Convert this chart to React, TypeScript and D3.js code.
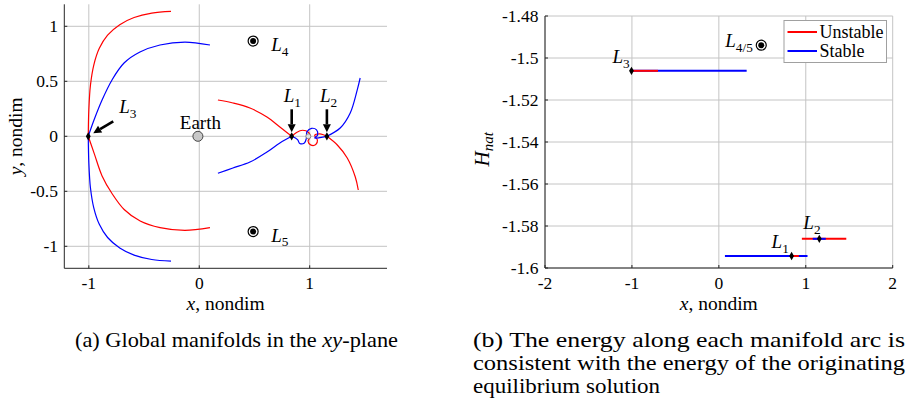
import React from "react";
import * as d3 from "d3";

type Pt = [number, number];

// Equilibrium solutions of the Earth–Moon CR3BP (nondimensional)
const collinearNames = ["1", "2", "3"];
const collinearX = [0.8369, 1.1557, -1.0051];
const collinearH = [-1.5943, -1.5861, -1.5061];
const triangularNames = ["4", "5"];
const triangularX = 0.4878;
const triangularY = [0.866, -0.866];
const triangularH = -1.4939;
const earthPos: Pt = [-0.01215, 0];
const moonPos: Pt = [0.98785, 0];

// Global manifold arcs, (x, y)
const l3UnstableUpper: Pt[] = [
  [-1.005, 0], [-1.0, 0.239], [-0.985, 0.466], [-0.955, 0.648], [-0.905, 0.8],
  [-0.83, 0.92], [-0.72, 1.015], [-0.59, 1.08], [-0.43, 1.12], [-0.256, 1.135],
];
const l3UnstableLower: Pt[] = [
  [-1.005, 0], [-0.95, -0.16], [-0.88, -0.36], [-0.79, -0.52], [-0.68, -0.665],
  [-0.535, -0.77], [-0.355, -0.83], [-0.13, -0.855], [0.097, -0.83],
];
const l3StableUpper: Pt[] = [
  [-1.005, 0], [-0.953, 0.148], [-0.88, 0.33], [-0.79, 0.512], [-0.681, 0.666],
  [-0.537, 0.766], [-0.356, 0.83], [-0.129, 0.857], [0.097, 0.83],
];
const l3StableLower: Pt[] = [
  [-1.005, 0], [-1.0, -0.24], [-0.985, -0.47], [-0.955, -0.65], [-0.905, -0.8],
  [-0.83, -0.92], [-0.72, -1.015], [-0.59, -1.08], [-0.43, -1.12], [-0.256, -1.135],
];
const l1UnstableLeft: Pt[] = [
  [0.169, 0.33], [0.305, 0.303], [0.459, 0.257], [0.613, 0.175], [0.73, 0.085], [0.837, 0],
];
const l1StableLeft: Pt[] = [
  [0.169, -0.336], [0.305, -0.288], [0.459, -0.234], [0.613, -0.143], [0.73, -0.061], [0.837, 0],
];
const l2UnstableRight: Pt[] = [
  [1.156, 0], [1.25, -0.079], [1.34, -0.197], [1.413, -0.37], [1.44, -0.488],
];
const l2StableRight: Pt[] = [
  [1.156, 0], [1.276, 0.075], [1.367, 0.212], [1.43, 0.42], [1.457, 0.53],
];
const lunarUnstable: Pt[] = [
  [0.837, 0], [0.881, 0.035], [0.935, 0.055], [0.99, 0.035], [1.005, -0.004],
  [0.985, -0.045], [1.012, -0.08], [1.055, -0.075], [1.07, -0.034], [1.045, 0.008],
  [1.092, 0.022], [1.156, 0],
];
const lunarStable: Pt[] = [
  [0.837, 0], [0.89, -0.03], [0.91, -0.065], [0.952, -0.06], [0.97, -0.018],
  [0.975, 0.04], [1.017, 0.072], [1.062, 0.058], [1.072, 0.012], [1.045, -0.015],
  [1.092, -0.012], [1.156, 0],
];

// x-extent of each manifold at its energy level (L1, L2, L3)
const stableSpans: Pt[] = [[0.07, 1.02], [1.08, 1.23], [-1.0, 0.32]];
const unstableSpans: Pt[] = [[0.83, 0.92], [0.955, 1.466], [-1.0, -0.7]];

// Axis ticks
const leftXTicks = [-1, 0, 1];
const leftYTicks = [-1, -0.5, 0, 0.5, 1];
const rightXTicks = [-2, -1, 0, 1, 2];
const rightYTicks = [-1.6, -1.58, -1.56, -1.54, -1.52, -1.5, -1.48];

const RED = "#ff0000";
const BLUE = "#0000ff";
const GRID = "#c4c4c4";
const AXIS = "#262626";
const TICK_FS = 17.5;
const LABEL_FS = 19.5;
const CAPTION_FS = 21;

const fmt = (v: number) => String(v);

function Sub({ base, sub, x, y, size = 19 }: any) {
  return (
    <text x={x} y={y} fontSize={size} fill="#000">
      <tspan fontStyle="italic">{base}</tspan>
      <tspan fontSize={size * 0.7} dy={size * 0.25}>{sub}</tspan>
    </text>
  );
}

function Arrow({ x1, y1, x2, y2 }: { x1: number; y1: number; x2: number; y2: number }) {
  const ang = Math.atan2(y2 - y1, x2 - x1);
  const len = 8;
  const half = 4;
  const bx = x2 - len * Math.cos(ang);
  const by = y2 - len * Math.sin(ang);
  const px = -Math.sin(ang) * half;
  const py = Math.cos(ang) * half;
  return (
    <g>
      <line x1={x1} y1={y1} x2={bx} y2={by} stroke="#000" strokeWidth={2.6} />
      <polygon points={`${x2},${y2} ${bx + px},${by + py} ${bx - px},${by - py}`} fill="#000" />
    </g>
  );
}

function TriMarker({ cx, cy }: { cx: number; cy: number }) {
  return (
    <g>
      <circle cx={cx} cy={cy} r={5} fill="#fff" stroke="#000" strokeWidth={1.2} />
      <circle cx={cx} cy={cy} r={3} fill="#000" />
    </g>
  );
}

export default function App() {
  // Left panel: xy-plane
  const xL = d3.scaleLinear().domain([-1.222, 1.7]).range([64.3, 387]);
  const yL = d3.scaleLinear().domain([-1.2, 1.2]).range([268.3, 4.3]);
  // Right panel: energy
  const xR = d3.scaleLinear().domain([-2, 2]).range([545, 892.7]);
  const yR = d3.scaleLinear().domain([-1.6, -1.48]).range([268, 16]);

  const line = d3
    .line<Pt>()
    .x((d) => xL(d[0]))
    .y((d) => yL(d[1]))
    .curve(d3.curveCatmullRom.alpha(0.5));

  const diamond = d3.symbol().type(d3.symbolDiamond).size(20)() as string;

  const redArcs = [l3UnstableUpper, l3UnstableLower, l1UnstableLeft, l2UnstableRight, lunarUnstable];
  const blueArcs = [l3StableUpper, l3StableLower, l1StableLeft, l2StableRight, lunarStable];

  // Energy segments: longer span drawn first so the shorter one stays visible
  const ordered = collinearH.flatMap((h, i) => {
    const pair = [
      { h, span: stableSpans[i], color: BLUE },
      { h, span: unstableSpans[i], color: RED },
    ];
    return pair.sort((a, b) => (b.span[1] - b.span[0]) - (a.span[1] - a.span[0]));
  });

  const lx = collinearX.map((v) => xL(v));
  const ly0 = yL(0);

  return (
    <svg
      width={906}
      height={399}
      style={{ position: "absolute", left: 0, top: 0, background: "#fff" }}
    >
      <style>{`text { font-family: "Liberation Serif", "DejaVu Serif", serif; fill: #000; }`}</style>
      <rect width={906} height={399} fill="#fff" />

      {/* ---------- Left panel ---------- */}
      <g>
        {leftXTicks.map((t) => (
          <line key={"gx" + t} x1={xL(t)} x2={xL(t)} y1={yL(-1.2)} y2={yL(1.2)} stroke={GRID} strokeWidth={1} />
        ))}
        {leftYTicks.map((t) => (
          <line key={"gy" + t} x1={xL(-1.222)} x2={xL(1.7)} y1={yL(t)} y2={yL(t)} stroke={GRID} strokeWidth={1} />
        ))}

        {redArcs.map((a, i) => (
          <path key={"r" + i} d={line(a) as string} fill="none" stroke={RED} strokeWidth={1.2} />
        ))}
        {blueArcs.map((a, i) => (
          <path key={"b" + i} d={line(a) as string} fill="none" stroke={BLUE} strokeWidth={1.2} />
        ))}

        {/* Earth and Moon */}
        <circle cx={xL(earthPos[0])} cy={yL(earthPos[1])} r={5} fill="#c8c8c8" stroke="#444" strokeWidth={1} />
        <circle cx={xL(moonPos[0])} cy={yL(moonPos[1])} r={2.5} fill="#e0e0e0" stroke="#777" strokeWidth={0.8} />

        {/* Equilibria */}
        {lx.map((x, i) => (
          <path key={"d" + i} d={diamond} transform={`translate(${x},${ly0})`} fill="#000" />
        ))}
        {triangularY.map((y, i) => (
          <TriMarker key={"t" + i} cx={xL(triangularX)} cy={yL(y)} />
        ))}

        {/* Labels */}
        <text x={xL(earthPos[0]) + 2.5} y={yL(0) - 7} fontSize={19} textAnchor="middle">Earth</text>
        <Arrow x1={lx[0]} y1={ly0 - 27} x2={lx[0]} y2={ly0 - 4} />
        <Arrow x1={lx[1]} y1={ly0 - 27} x2={lx[1]} y2={ly0 - 4} />
        <Arrow x1={lx[2] + 25} y1={ly0 - 15} x2={lx[2] + 5} y2={ly0 - 3} />
        <Sub base="L" sub={collinearNames[0]} x={lx[0] - 8} y={ly0 - 34} />
        <Sub base="L" sub={collinearNames[1]} x={lx[1] - 7} y={ly0 - 34} />
        <Sub base="L" sub={collinearNames[2]} x={lx[2] + 31} y={ly0 - 23} />
        <Sub base="L" sub={triangularNames[0]} x={xL(triangularX) + 18} y={yL(triangularY[0]) + 10} />
        <Sub base="L" sub={triangularNames[1]} x={xL(triangularX) + 18} y={yL(triangularY[1]) + 10} />

        {/* Axes */}
        <line x1={64.3} x2={64.3} y1={yL(1.2)} y2={yL(-1.2)} stroke={AXIS} strokeWidth={1} />
        <line x1={64.3} x2={xL(1.7)} y1={yL(-1.2)} y2={yL(-1.2)} stroke={AXIS} strokeWidth={1} />
        {leftXTicks.map((t) => (
          <g key={"tx" + t}>
            <line x1={xL(t)} x2={xL(t)} y1={yL(-1.2)} y2={yL(-1.2) - 3} stroke={AXIS} />
            <text x={xL(t)} y={288.5} fontSize={TICK_FS} textAnchor="middle">{fmt(t)}</text>
          </g>
        ))}
        {leftYTicks.map((t) => (
          <g key={"ty" + t}>
            <line x1={64.3} x2={67.3} y1={yL(t)} y2={yL(t)} stroke={AXIS} />
            <text x={58} y={yL(t) + 6} fontSize={TICK_FS} textAnchor="end">{fmt(t)}</text>
          </g>
        ))}
        <text x={225.6} y={310} fontSize={LABEL_FS} textAnchor="middle">
          <tspan fontStyle="italic">x</tspan>, nondim
        </text>
        <text transform={`translate(22,${yL(0)}) rotate(-90)`} fontSize={LABEL_FS} textAnchor="middle">
          <tspan fontStyle="italic">y</tspan>, nondim
        </text>
      </g>

      {/* ---------- Right panel ---------- */}
      <g>
        {rightXTicks.map((t) => (
          <line key={"rgx" + t} x1={xR(t)} x2={xR(t)} y1={yR(-1.6)} y2={yR(-1.48)} stroke={GRID} strokeWidth={1} />
        ))}
        {rightYTicks.map((t) => (
          <line key={"rgy" + t} x1={xR(-2)} x2={xR(2)} y1={yR(t)} y2={yR(t)} stroke={GRID} strokeWidth={1} />
        ))}

        {ordered.map((s, i) => (
          <line
            key={"seg" + i}
            x1={xR(s.span[0])}
            x2={xR(s.span[1])}
            y1={yR(s.h)}
            y2={yR(s.h)}
            stroke={s.color}
            strokeWidth={2}
          />
        ))}

        {collinearX.map((x, i) => (
          <path key={"rd" + i} d={diamond} transform={`translate(${xR(x)},${yR(collinearH[i])})`} fill="#000" />
        ))}
        <TriMarker cx={xR(triangularX)} cy={yR(triangularH)} />

        <Sub base="L" sub={collinearNames[2]} x={xR(collinearX[2]) - 19} y={yR(collinearH[2]) - 8} />
        <Sub base="L" sub={collinearNames[0]} x={xR(collinearX[0]) - 20} y={yR(collinearH[0]) - 8} />
        <Sub base="L" sub={collinearNames[1]} x={xR(collinearX[1]) - 16} y={yR(collinearH[1]) - 10} />
        <Sub base="L" sub="4/5" x={xR(triangularX) - 36} y={yR(triangularH) + 2} />

        {/* Legend */}
        <rect x={784} y={20.5} width={102.5} height={42} fill="#fff" stroke="#a0a0a0" strokeWidth={1} />
        <line x1={787.5} x2={817} y1={32} y2={32} stroke={RED} strokeWidth={2} />
        <line x1={787.5} x2={817} y1={51} y2={51} stroke={BLUE} strokeWidth={2} />
        <text x={819.5} y={37.5} fontSize={18}>Unstable</text>
        <text x={819.5} y={56.5} fontSize={18}>Stable</text>

        {/* Axes */}
        <line x1={545} x2={545} y1={16} y2={268} stroke={AXIS} strokeWidth={1} />
        <line x1={545} x2={892.7} y1={268} y2={268} stroke={AXIS} strokeWidth={1} />
        {rightXTicks.map((t) => (
          <g key={"rtx" + t}>
            <line x1={xR(t)} x2={xR(t)} y1={268} y2={265} stroke={AXIS} />
            <text x={xR(t)} y={288.5} fontSize={TICK_FS} textAnchor="middle">{fmt(t)}</text>
          </g>
        ))}
        {rightYTicks.map((t) => (
          <g key={"rty" + t}>
            <line x1={545} x2={548} y1={yR(t)} y2={yR(t)} stroke={AXIS} />
            <text x={538.5} y={yR(t) + 6} fontSize={TICK_FS} textAnchor="end">{fmt(t)}</text>
          </g>
        ))}
        <text x={718.8} y={310} fontSize={LABEL_FS} textAnchor="middle">
          <tspan fontStyle="italic">x</tspan>, nondim
        </text>
        <text transform={`translate(489,${yR(-1.5435)}) rotate(-90)`} fontSize={21} textAnchor="middle">
          <tspan fontStyle="italic">H</tspan>
          <tspan fontStyle="italic" fontSize={15} dy={4}>nat</tspan>
        </text>
      </g>

      {/* ---------- Captions ---------- */}
      <text x={75} y={347} fontSize={CAPTION_FS} textLength={323} lengthAdjust="spacingAndGlyphs">
        (a) Global manifolds in the <tspan fontStyle="italic">xy</tspan>-plane
      </text>
      <text x={473} y={347} fontSize={CAPTION_FS} textLength={432} lengthAdjust="spacingAndGlyphs">
        (b) The energy along each manifold arc is
      </text>
      <text x={473} y={370} fontSize={CAPTION_FS} textLength={432} lengthAdjust="spacingAndGlyphs">
        consistent with the energy of the originating
      </text>
      <text x={473} y={393} fontSize={CAPTION_FS} textLength={187} lengthAdjust="spacingAndGlyphs">
        equilibrium solution
      </text>
    </svg>
  );
}
